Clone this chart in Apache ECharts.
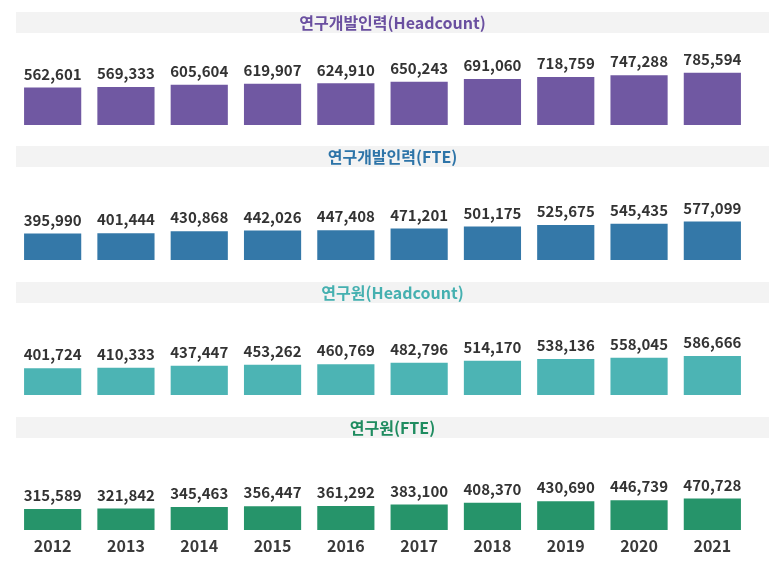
<!DOCTYPE html>
<html><head><meta charset="utf-8">
<script src="https://cdn.jsdelivr.net/npm/echarts@6/dist/echarts.min.js"></script>
<style>html,body{margin:0;padding:0;background:#fff}#c{width:777px;height:565px}</style>
</head><body><div id="c"></div>
<script>
const years = ['2012','2013','2014','2015','2016','2017','2018','2019','2020','2021'];
const rdHeadcount = [562601,569333,605604,619907,624910,650243,691060,718759,747288,785594];
const rdFTE = [395990,401444,430868,442026,447408,471201,501175,525675,545435,577099];
const resHeadcount = [401724,410333,437447,453262,460769,482796,514170,538136,558045,586666];
const resFTE = [315589,321842,345463,356447,361292,383100,408370,430690,446739,470728];
const titles = ['연구개발인력(Headcount)','연구개발인력(FTE)','연구원(Headcount)','연구원(FTE)'];
const seriesData = [rdHeadcount, rdFTE, resHeadcount, resFTE];
const colors = ['#7058a2','#3478a8','#4cb4b4','#26946a'];
const titleColors = ['#6a4fa0','#2d74a8','#45b0b0','#1f8c60'];

const FONT = '"Noto Sans CJK KR","Noto Sans",sans-serif';
const baselines = [125, 260, 395, 530];
const bandTops = [12, 146, 282, 417];
const H = 90;
const chart = echarts.init(document.getElementById('c'));
const grids = [], xAxes = [], yAxes = [], series = [], graphics = [];
for (let i = 0; i < 4; i++) {
  grids.push({left: 16, right: 28, top: baselines[i] - H, height: H});
  xAxes.push({type: 'category', gridIndex: i, data: years,
    axisLine: {show: false}, axisTick: {show: false},
    axisLabel: {show: i === 3, color: '#3a3a3a', fontFamily: FONT, fontWeight: 'bold', fontSize: 16, margin: 8}});
  yAxes.push({type: 'value', gridIndex: i, min: 0, max: 1350000, show: false, splitLine: {show: false}});
  series.push({type: 'bar', xAxisIndex: i, yAxisIndex: i, data: seriesData[i], barWidth: '78%',
    itemStyle: {color: colors[i]}, silent: true,
    label: {show: true, position: 'top', distance: 6, color: '#333', fontFamily: FONT, fontWeight: 'bold', fontSize: 15,
      formatter: p => p.value.toLocaleString('en-US')}});
  graphics.push({type: 'rect', left: 16, top: bandTops[i], shape: {width: 753, height: 21}, style: {fill: '#f3f3f3'}, z: 0});
  graphics.push({type: 'text', x: 392.5, y: bandTops[i] + 10.5, style: {text: titles[i], fill: titleColors[i],
    font: 'bold 16px ' + FONT, textAlign: 'center', textVerticalAlign: 'middle'}, z: 1});
}
chart.setOption({animation: false, grid: grids, xAxis: xAxes, yAxis: yAxes, series: series, graphic: graphics});
</script></body></html>
